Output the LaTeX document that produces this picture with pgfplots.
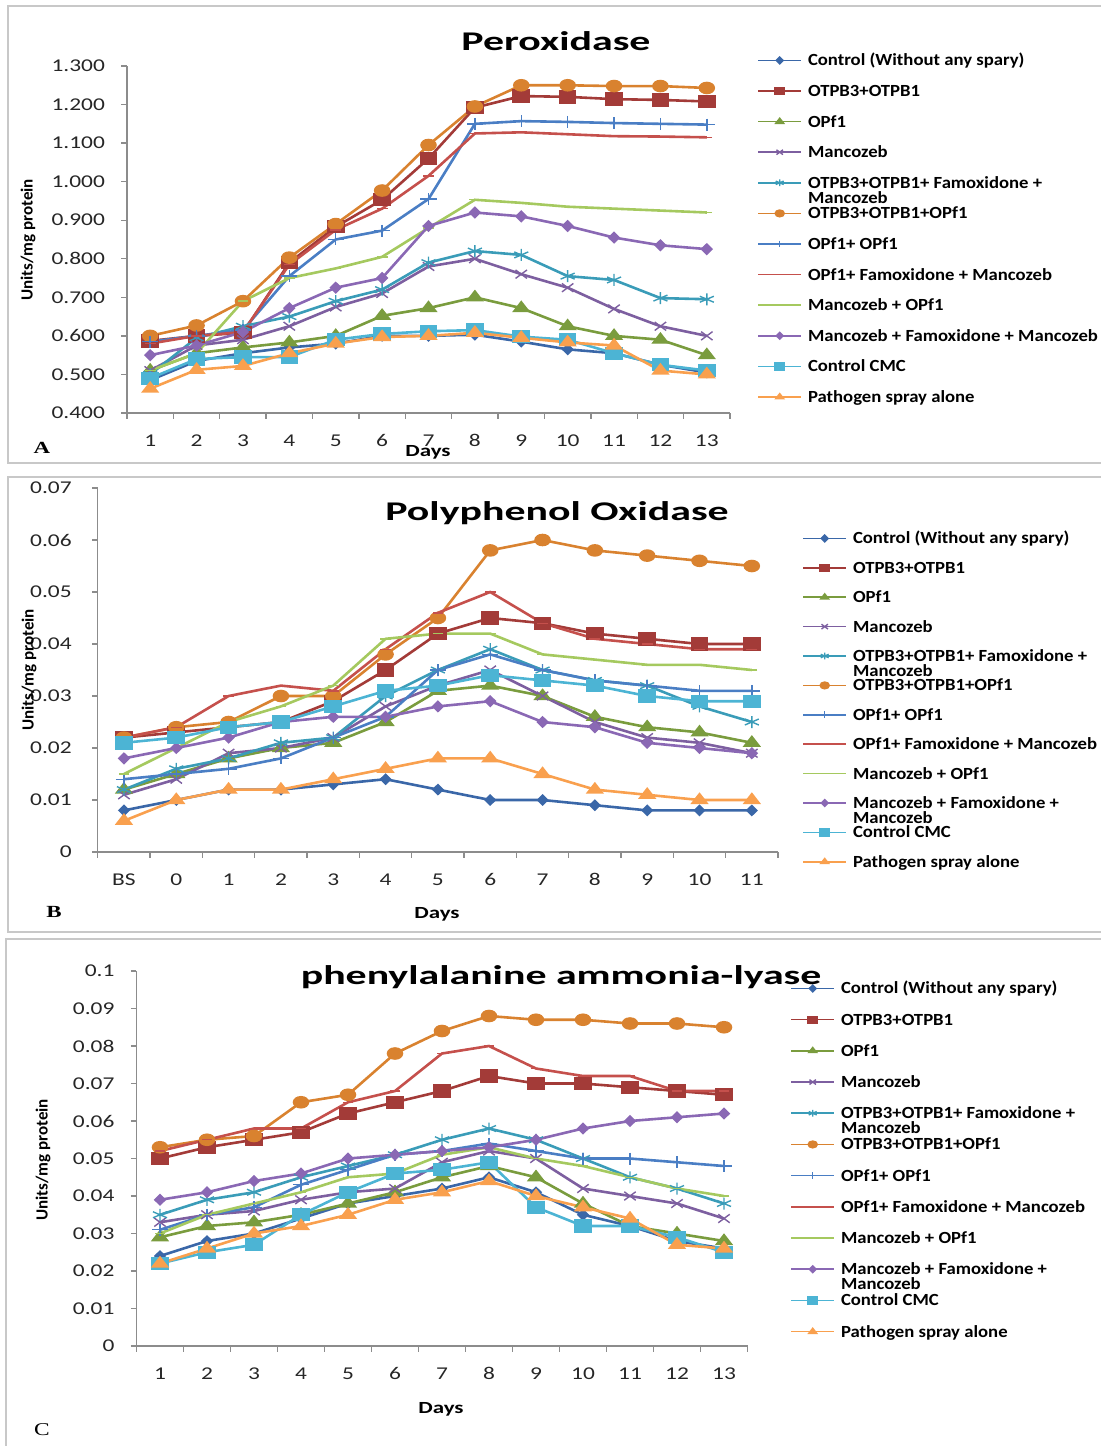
\documentclass[border=0pt]{standalone}
\usepackage{fontspec}
\setmainfont{Carlito}
\newfontfamily\seriff{Liberation Serif}
\usepackage{pgfplots}
\usepackage{pgfplotstable}
\pgfplotsset{compat=1.18}

\definecolor{c1}{HTML}{3A67A8}
\definecolor{c2}{HTML}{A33B38}
\definecolor{c3}{HTML}{7A9C3E}
\definecolor{c4}{HTML}{7D5FA0}
\definecolor{c5}{HTML}{3A9CB8}
\definecolor{c6}{HTML}{D9822F}
\definecolor{c7}{HTML}{4A7EC4}
\definecolor{c8}{HTML}{C5504C}
\definecolor{c9}{HTML}{A5C95F}
\definecolor{c10}{HTML}{8A68B4}
\definecolor{c11}{HTML}{4CB4D4}
\definecolor{c12}{HTML}{F9A04E}
\definecolor{axgray}{HTML}{8C8C8C}
\definecolor{framegray}{HTML}{C8C8C8}

\newcommand\ticfont{\fontsize{9}{10}\selectfont}
\newcommand\legfont{\fontsize{8.5}{10}\bfseries\selectfont}
\newcommand\legtwo[2]{\smash{\vtop{\baselineskip=7.5pt\lineskiplimit=-20pt\hbox{#1}\hbox{#2}}}}

\pgfplotstableread{
x s1 s2 s3 s4 s5 s6 s7 s8 s9 s10 s11 s12
1 0.485 0.587 0.510 0.510 0.500 0.600 0.585 0.580 0.510 0.550 0.490 0.463
2 0.535 0.600 0.555 0.575 0.595 0.627 0.600 0.600 0.555 0.575 0.540 0.512
3 0.555 0.608 0.570 0.590 0.625 0.690 0.615 0.610 0.690 0.610 0.545 0.522
4 0.570 0.790 0.583 0.625 0.650 0.803 0.755 0.785 0.750 0.672 0.545 0.555
5 0.580 0.883 0.600 0.675 0.690 0.890 0.850 0.875 0.775 0.725 0.590 0.580
6 0.600 0.953 0.652 0.710 0.720 0.977 0.873 0.930 0.805 0.750 0.605 0.597
7 0.600 1.060 0.672 0.780 0.790 1.095 0.955 1.015 0.880 0.885 0.612 0.600
8 0.603 1.192 0.700 0.800 0.820 1.195 1.150 1.125 0.953 0.920 0.615 0.608
9 0.585 1.222 0.672 0.760 0.810 1.250 1.157 1.128 0.945 0.910 0.598 0.595
10 0.565 1.220 0.625 0.725 0.755 1.250 1.155 1.123 0.935 0.885 0.590 0.583
11 0.555 1.214 0.600 0.670 0.745 1.248 1.152 1.118 0.930 0.855 0.555 0.575
12 0.525 1.212 0.590 0.625 0.698 1.248 1.150 1.117 0.925 0.835 0.525 0.510
13 0.505 1.208 0.550 0.600 0.695 1.243 1.148 1.115 0.920 0.825 0.510 0.500
}\tabA

\pgfplotstableread{
x s1 s2 s3 s4 s5 s6 s7 s8 s9 s10 s11 s12
1 0.008 0.022 0.012 0.011 0.012 0.022 0.014 0.022 0.015 0.018 0.021 0.006
2 0.010 0.023 0.015 0.014 0.016 0.024 0.015 0.024 0.020 0.020 0.022 0.010
3 0.012 0.024 0.018 0.019 0.018 0.025 0.016 0.030 0.025 0.022 0.024 0.012
4 0.012 0.025 0.020 0.020 0.021 0.030 0.018 0.032 0.028 0.025 0.025 0.012
5 0.013 0.029 0.021 0.022 0.022 0.030 0.022 0.031 0.032 0.026 0.028 0.014
6 0.014 0.035 0.025 0.028 0.030 0.038 0.026 0.039 0.041 0.026 0.031 0.016
7 0.012 0.042 0.031 0.032 0.035 0.045 0.035 0.046 0.042 0.028 0.032 0.018
8 0.010 0.045 0.032 0.035 0.039 0.058 0.038 0.050 0.042 0.029 0.034 0.018
9 0.010 0.044 0.030 0.030 0.035 0.060 0.035 0.044 0.038 0.025 0.033 0.015
10 0.009 0.042 0.026 0.025 0.033 0.058 0.033 0.041 0.037 0.024 0.032 0.012
11 0.008 0.041 0.024 0.022 0.032 0.057 0.032 0.040 0.036 0.021 0.030 0.011
12 0.008 0.040 0.023 0.021 0.028 0.056 0.031 0.039 0.036 0.020 0.029 0.010
13 0.008 0.040 0.021 0.019 0.025 0.055 0.031 0.039 0.035 0.019 0.029 0.010
}\tabB

\pgfplotstableread{
x s1 s2 s3 s4 s5 s6 s7 s8 s9 s10 s11 s12
1 0.024 0.050 0.029 0.033 0.035 0.053 0.031 0.052 0.030 0.039 0.022 0.022
2 0.028 0.053 0.032 0.035 0.039 0.055 0.035 0.055 0.035 0.041 0.025 0.026
3 0.030 0.055 0.033 0.036 0.041 0.056 0.037 0.058 0.038 0.044 0.027 0.030
4 0.034 0.057 0.035 0.039 0.045 0.065 0.043 0.058 0.041 0.046 0.035 0.032
5 0.038 0.062 0.038 0.041 0.048 0.067 0.047 0.065 0.045 0.050 0.041 0.035
6 0.040 0.065 0.041 0.042 0.051 0.078 0.051 0.068 0.046 0.051 0.046 0.039
7 0.042 0.068 0.045 0.049 0.055 0.084 0.052 0.078 0.051 0.052 0.047 0.041
8 0.045 0.072 0.048 0.052 0.058 0.088 0.054 0.080 0.053 0.053 0.049 0.044
9 0.041 0.070 0.045 0.050 0.055 0.087 0.052 0.074 0.050 0.055 0.037 0.040
10 0.035 0.070 0.038 0.042 0.050 0.087 0.050 0.072 0.048 0.058 0.032 0.037
11 0.032 0.069 0.032 0.040 0.045 0.086 0.050 0.072 0.045 0.060 0.032 0.034
12 0.028 0.068 0.030 0.038 0.042 0.086 0.049 0.068 0.042 0.061 0.029 0.027
13 0.026 0.067 0.028 0.034 0.038 0.085 0.048 0.068 0.040 0.062 0.025 0.026
}\tabC

\pgfplotsset{
  legend image code/.code={\draw[#1, line width=0.8pt, mark size=1.7pt, mark repeat=2, mark phase=2] plot coordinates {(0pt,0pt) (10.75pt,0pt) (21.5pt,0pt)};},
  every axis plot/.append style={line width=1.3pt, mark options={solid, line width=0.7pt, xscale=1.35}},
  p1/.style={color=c1, mark=diamond*, mark size=2.5pt},
  p2/.style={color=c2, mark=square*, mark size=3pt},
  p3/.style={color=c3, mark=triangle*, mark size=3.3pt},
  p4/.style={color=c4, mark=x, mark size=3pt},
  p5/.style={color=c5, mark=asterisk, mark size=3pt},
  p6/.style={color=c6, mark=*, mark size=2.8pt},
  p7/.style={color=c7, mark=+, mark size=3pt},
  p8/.style={color=c8, mark=-, mark size=2pt},
  p9/.style={color=c9, mark=-, mark size=2pt},
  p10/.style={color=c10, mark=diamond*, mark size=2.6pt},
  p11/.style={color=c11, mark=square*, mark size=3pt},
  p12/.style={color=c12, mark=triangle*, mark size=3.3pt},
  panel/.style={
    scale only axis,
    axis lines*=left,
    axis line style={draw=axgray, line width=0.7pt},
    tick align=outside,
    major tick length=2.8pt,
    tick style={draw=axgray, line width=0.7pt},
    scaled y ticks=false,
    xmin=0.5, xmax=13.5,
    xtick={0.5,1.5,2.5,3.5,4.5,5.5,6.5,7.5,8.5,9.5,10.5,11.5,12.5,13.5},
    x tick label as interval,
    ticklabel style={font=\ticfont, text=black!85, inner sep=0pt},
    yticklabel style={anchor=east, xscale=1.3},
    xticklabel style={anchor=center, xscale=1.3},
    clip=false,
    legend cell align=left,
    legend style={draw=none, fill=none, font=\legfont, inner sep=0pt, row sep=0pt, column sep=3pt, anchor=north west},
  },
}

\begin{document}
\begin{tikzpicture}
\useasboundingbox (0,0) rectangle (550pt,-723pt);
\begin{scope}[x=0.5pt,y=-0.5pt]
\draw[framegray, line width=1pt] (8,6) rectangle (1112,463);
\draw[framegray, line width=1pt] (8,477) rectangle (1112,932);
\draw[framegray, line width=1pt] (6,939) rectangle (1112,1460);
\end{scope}

% ---------- Panel A ----------
\begin{axis}[panel, at={(63.5pt,-33pt)}, anchor=north west,
  width=301.5pt, height=173.5pt,
  ymin=0.4, ymax=1.3,
  ytick={0.4,0.5,0.6,0.7,0.8,0.9,1.0,1.1,1.2,1.3},
  yticklabels={0.400,0.500,0.600,0.700,0.800,0.900,1.000,1.100,1.200,1.300},
  xticklabels={1,2,3,4,5,6,7,8,9,10,11,12,13},
  yticklabel shift=8pt, xticklabel shift=11pt,
  legend style={at={(1.0448,1.0614)}, nodes={inner sep=0pt, xscale=1.1, text height=10.35pt, text depth=4.95pt}},
]
\addplot[p1] table[x=x,y=s1]{\tabA}; \addlegendentry{Control (Without any spary)}
\addplot[p2] table[x=x,y=s2]{\tabA}; \addlegendentry{OTPB3+OTPB1}
\addplot[p3] table[x=x,y=s3]{\tabA}; \addlegendentry{OPf1}
\addplot[p4] table[x=x,y=s4]{\tabA}; \addlegendentry{Mancozeb}
\addplot[p5] table[x=x,y=s5]{\tabA}; \addlegendentry{\legtwo{OTPB3+OTPB1+ Famoxidone +}{Mancozeb}}
\addplot[p6] table[x=x,y=s6]{\tabA}; \addlegendentry{OTPB3+OTPB1+OPf1}
\addplot[p7] table[x=x,y=s7]{\tabA}; \addlegendentry{OPf1+ OPf1}
\addplot[p8] table[x=x,y=s8]{\tabA}; \addlegendentry{OPf1+ Famoxidone + Mancozeb}
\addplot[p9] table[x=x,y=s9]{\tabA}; \addlegendentry{Mancozeb + OPf1}
\addplot[p10] table[x=x,y=s10]{\tabA}; \addlegendentry{Mancozeb + Famoxidone + Mancozeb}
\addplot[p11] table[x=x,y=s11]{\tabA}; \addlegendentry{Control CMC}
\addplot[p12] table[x=x,y=s12]{\tabA}; \addlegendentry{Pathogen spray alone}
\end{axis}

% ---------- Panel B ----------
\begin{axis}[panel, at={(48.9pt,-244pt)}, anchor=north west,
  width=340.1pt, height=182pt,
  ymin=0, ymax=0.07,
  ytick={0,0.01,0.02,0.03,0.04,0.05,0.06,0.07},
  yticklabels={0,0.01,0.02,0.03,0.04,0.05,0.06,0.07},
  xticklabels={BS,0,1,2,3,4,5,6,7,8,9,10,11},
  yticklabel shift=10pt, xticklabel shift=11pt,
  legend style={at={(1.0353,0.903)}, nodes={inner sep=0pt, xscale=1.1, text height=10.05pt, text depth=4.65pt}},
]
\addplot[p1] table[x=x,y=s1]{\tabB}; \addlegendentry{Control (Without any spary)}
\addplot[p2] table[x=x,y=s2]{\tabB}; \addlegendentry{OTPB3+OTPB1}
\addplot[p3] table[x=x,y=s3]{\tabB}; \addlegendentry{OPf1}
\addplot[p4] table[x=x,y=s4]{\tabB}; \addlegendentry{Mancozeb}
\addplot[p5] table[x=x,y=s5]{\tabB}; \addlegendentry{\legtwo{OTPB3+OTPB1+ Famoxidone +}{Mancozeb}}
\addplot[p6] table[x=x,y=s6]{\tabB}; \addlegendentry{OTPB3+OTPB1+OPf1}
\addplot[p7] table[x=x,y=s7]{\tabB}; \addlegendentry{OPf1+ OPf1}
\addplot[p8] table[x=x,y=s8]{\tabB}; \addlegendentry{OPf1+ Famoxidone + Mancozeb}
\addplot[p9] table[x=x,y=s9]{\tabB}; \addlegendentry{Mancozeb + OPf1}
\addplot[p10] table[x=x,y=s10]{\tabB}; \addlegendentry{\legtwo{Mancozeb + Famoxidone +}{Mancozeb}}
\addplot[p11] table[x=x,y=s11]{\tabB}; \addlegendentry{Control CMC}
\addplot[p12] table[x=x,y=s12]{\tabB}; \addlegendentry{Pathogen spray alone}
\end{axis}

% ---------- Panel C ----------
\begin{axis}[panel, at={(68.25pt,-485.5pt)}, anchor=north west,
  width=305.5pt, height=187.5pt,
  ymin=0, ymax=0.1,
  ytick={0,0.01,0.02,0.03,0.04,0.05,0.06,0.07,0.08,0.09,0.1},
  yticklabels={0,0.01,0.02,0.03,0.04,0.05,0.06,0.07,0.08,0.09,0.1},
  xticklabels={1,2,3,4,5,6,7,8,9,10,11,12,13},
  yticklabel shift=8pt, xticklabel shift=11pt,
  legend style={at={(1.0696,0.9962)}, nodes={inner sep=0pt, xscale=1.1, text height=10.5pt, text depth=5.1pt}},
]
\addplot[p1] table[x=x,y=s1]{\tabC}; \addlegendentry{Control (Without any spary)}
\addplot[p2] table[x=x,y=s2]{\tabC}; \addlegendentry{OTPB3+OTPB1}
\addplot[p3] table[x=x,y=s3]{\tabC}; \addlegendentry{OPf1}
\addplot[p4] table[x=x,y=s4]{\tabC}; \addlegendentry{Mancozeb}
\addplot[p5] table[x=x,y=s5]{\tabC}; \addlegendentry{\legtwo{OTPB3+OTPB1+ Famoxidone +}{Mancozeb}}
\addplot[p6] table[x=x,y=s6]{\tabC}; \addlegendentry{OTPB3+OTPB1+OPf1}
\addplot[p7] table[x=x,y=s7]{\tabC}; \addlegendentry{OPf1+ OPf1}
\addplot[p8] table[x=x,y=s8]{\tabC}; \addlegendentry{OPf1+ Famoxidone + Mancozeb}
\addplot[p9] table[x=x,y=s9]{\tabC}; \addlegendentry{Mancozeb + OPf1}
\addplot[p10] table[x=x,y=s10]{\tabC}; \addlegendentry{\legtwo{Mancozeb + Famoxidone +}{Mancozeb}}
\addplot[p11] table[x=x,y=s11]{\tabC}; \addlegendentry{Control CMC}
\addplot[p12] table[x=x,y=s12]{\tabC}; \addlegendentry{Pathogen spray alone}
\end{axis}

\begin{scope}[x=0.5pt,y=-0.5pt]
\node[anchor=base, font=\fontsize{13.5}{16}\bfseries\selectfont, xscale=1.55] at (556,50) {Peroxidase};
\node[anchor=base, font=\fontsize{13.5}{16}\bfseries\selectfont, xscale=1.55] at (557,520) {Polyphenol Oxidase};
\node[anchor=base, font=\fontsize{13.5}{16}\bfseries\selectfont, xscale=1.55] at (561,984) {phenylalanine ammonia-lyase};
\node[anchor=base, font=\fontsize{8.5}{10}\bfseries\selectfont, xscale=1.35] at (428,456) {Days};
\node[anchor=base, font=\fontsize{8.5}{10}\bfseries\selectfont, xscale=1.35] at (437,918) {Days};
\node[anchor=base, font=\fontsize{8.5}{10}\bfseries\selectfont, xscale=1.35] at (441,1413) {Days};
\node[rotate=90, font=\fontsize{8.5}{10}\bfseries\selectfont] at (28,240) {Units/mg protein};
\node[rotate=90, font=\fontsize{8.5}{10}\bfseries\selectfont] at (29,670) {Units/mg protein};
\node[rotate=90, font=\fontsize{8.5}{10}\bfseries\selectfont] at (43,1160) {Units/mg protein};
\node[anchor=base, font=\seriff\fontsize{8.5}{10}\bfseries\selectfont, xscale=1.35] at (42,453) {A};
\node[anchor=base, font=\seriff\fontsize{8.5}{10}\bfseries\selectfont, xscale=1.35] at (54,917) {B};
\node[anchor=base, font=\seriff\fontsize{9}{10}\selectfont, xscale=1.3] at (42,1435) {C};
\end{scope}
\end{tikzpicture}
\end{document}
